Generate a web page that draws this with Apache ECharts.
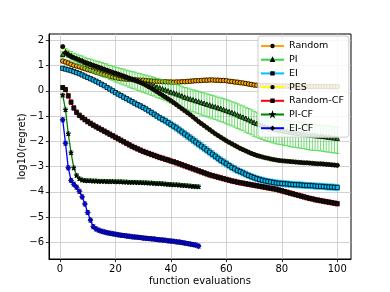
<!DOCTYPE html>
<html><head><meta charset="utf-8">
<script src="https://cdn.jsdelivr.net/npm/echarts@6/dist/echarts.min.js"></script>
<style>html,body{margin:0;padding:0;background:#fff}#c{width:390px;height:292px}</style>
</head><body><div id="c"></div>
<script>
const seriesNames = ['Random','PI','EI','PES','Random-CF','PI-CF','EI-CF'];
const xTicks = [0,20,40,60,80,100];
const yTicks = [-6,-5,-4,-3,-2,-1,0,1,2];

const random = [1.18,1.14,1.10,1.05,1.01,0.98,0.95,0.91,0.88,0.84,
0.81,0.78,0.74,0.71,0.67,0.64,0.61,0.58,0.55,0.52,
0.50,0.48,0.47,0.46,0.45,0.44,0.44,0.43,0.42,0.42,
0.41,0.40,0.39,0.38,0.38,0.37,0.36,0.36,0.35,0.35,
0.34,0.35,0.35,0.36,0.36,0.37,0.38,0.39,0.40,0.40,
0.41,0.42,0.42,0.43,0.43,0.42,0.42,0.41,0.41,0.40,
0.38,0.37,0.35,0.34,0.32,0.31,0.29,0.27,0.25,0.23,
0.22,0.22,0.21,0.21,0.20,0.20,0.20,0.20,0.19,0.19,
0.19,0.19,0.18,0.18,0.18,0.18,0.18,0.18,0.18,0.17,
0.17,0.17,0.17,0.17,0.17,0.16,0.16,0.16,0.16,0.16];

const pi = [1.45,1.55,1.47,1.40,1.33,1.28,1.23,1.19,1.13,1.08,
1.05,1.00,0.96,0.93,0.88,0.84,0.81,0.76,0.72,0.68,
0.64,0.61,0.58,0.54,0.50,0.47,0.44,0.40,0.37,0.33,
0.30,0.27,0.23,0.20,0.15,0.12,0.08,0.04,0.00,-0.05,
-0.08,-0.12,-0.16,-0.20,-0.25,-0.28,-0.32,-0.35,-0.39,-0.42,
-0.46,-0.49,-0.53,-0.56,-0.60,-0.63,-0.67,-0.70,-0.74,-0.78,
-0.82,-0.86,-0.90,-0.95,-1.00,-1.04,-1.09,-1.14,-1.19,-1.25,
-1.29,-1.33,-1.37,-1.41,-1.44,-1.47,-1.50,-1.53,-1.55,-1.57,
-1.59,-1.61,-1.63,-1.65,-1.66,-1.68,-1.70,-1.71,-1.73,-1.75,
-1.76,-1.77,-1.78,-1.79,-1.80,-1.82,-1.83,-1.85,-1.86,-1.88];

const ei = [0.89,0.86,0.83,0.80,0.76,0.72,0.68,0.63,0.58,0.53,
0.48,0.43,0.38,0.32,0.26,0.20,0.13,0.07,0.00,-0.07,
-0.13,-0.19,-0.25,-0.31,-0.37,-0.43,-0.49,-0.55,-0.60,-0.66,
-0.72,-0.79,-0.86,-0.93,-1.00,-1.07,-1.13,-1.19,-1.26,-1.33,
-1.40,-1.47,-1.55,-1.63,-1.71,-1.79,-1.87,-1.95,-2.03,-2.11,
-2.19,-2.27,-2.35,-2.43,-2.51,-2.59,-2.67,-2.75,-2.82,-2.89,
-2.96,-3.03,-3.09,-3.15,-3.20,-3.25,-3.30,-3.35,-3.40,-3.44,
-3.48,-3.51,-3.54,-3.57,-3.59,-3.61,-3.63,-3.65,-3.66,-3.67,
-3.68,-3.69,-3.70,-3.71,-3.72,-3.72,-3.73,-3.74,-3.75,-3.75,
-3.76,-3.77,-3.78,-3.78,-3.79,-3.80,-3.81,-3.81,-3.82,-3.83];

const pes = [1.75,1.50,1.42,1.36,1.31,1.27,1.22,1.18,1.13,1.09,
1.05,1.01,0.97,0.93,0.89,0.85,0.81,0.77,0.73,0.70,
0.66,0.62,0.58,0.54,0.50,0.46,0.42,0.38,0.33,0.28,
0.22,0.16,0.10,0.03,-0.04,-0.11,-0.18,-0.25,-0.32,-0.39,
-0.47,-0.55,-0.63,-0.71,-0.79,-0.87,-0.95,-1.04,-1.13,-1.22,
-1.30,-1.38,-1.46,-1.54,-1.62,-1.70,-1.77,-1.84,-1.91,-1.98,
-2.04,-2.10,-2.16,-2.22,-2.28,-2.33,-2.38,-2.43,-2.48,-2.52,
-2.56,-2.59,-2.62,-2.65,-2.67,-2.70,-2.72,-2.74,-2.76,-2.77,
-2.78,-2.79,-2.80,-2.81,-2.82,-2.83,-2.84,-2.85,-2.85,-2.86,
-2.87,-2.88,-2.89,-2.89,-2.90,-2.91,-2.92,-2.93,-2.94,-2.95];

const randomCF = [0.13,0.05,-0.20,-0.45,-0.68,-0.85,-0.97,-1.06,-1.14,-1.22,
-1.29,-1.36,-1.42,-1.48,-1.54,-1.60,-1.66,-1.72,-1.78,-1.84,
-1.90,-1.96,-2.02,-2.08,-2.14,-2.20,-2.25,-2.30,-2.35,-2.40,
-2.44,-2.48,-2.52,-2.56,-2.60,-2.64,-2.67,-2.71,-2.74,-2.78,
-2.81,-2.85,-2.89,-2.93,-2.97,-3.01,-3.05,-3.09,-3.13,-3.17,
-3.21,-3.25,-3.29,-3.33,-3.36,-3.39,-3.42,-3.45,-3.48,-3.51,
-3.54,-3.57,-3.59,-3.62,-3.64,-3.66,-3.68,-3.70,-3.72,-3.74,
-3.76,-3.78,-3.80,-3.82,-3.84,-3.86,-3.88,-3.90,-3.93,-3.96,
-3.99,-4.02,-4.05,-4.08,-4.11,-4.14,-4.17,-4.20,-4.23,-4.26,
-4.28,-4.31,-4.33,-4.35,-4.37,-4.39,-4.41,-4.43,-4.45,-4.47];

const piCF = [-0.17,-0.75,-1.70,-2.45,-3.05,-3.35,-3.48,-3.53,-3.55,-3.56,
-3.56,-3.57,-3.57,-3.58,-3.58,-3.58,-3.59,-3.59,-3.59,-3.60,
-3.60,-3.60,-3.61,-3.61,-3.62,-3.62,-3.62,-3.63,-3.63,-3.64,
-3.64,-3.65,-3.65,-3.66,-3.67,-3.67,-3.68,-3.69,-3.70,-3.71,
-3.72,-3.72,-3.73,-3.74,-3.75,-3.76,-3.77,-3.78,-3.79,-3.80];

const eiCF = [-1.15,-2.08,-3.05,-3.55,-3.70,-3.82,-3.98,-4.20,-4.48,-4.82,
-5.12,-5.38,-5.47,-5.52,-5.56,-5.59,-5.62,-5.64,-5.66,-5.68,
-5.70,-5.72,-5.73,-5.75,-5.76,-5.78,-5.79,-5.80,-5.81,-5.83,
-5.84,-5.85,-5.86,-5.87,-5.89,-5.90,-5.91,-5.92,-5.94,-5.95,
-5.96,-5.98,-5.99,-6.01,-6.03,-6.05,-6.07,-6.09,-6.11,-6.15];

const errRandom = [0.07,0.07,0.08,0.08,0.08,0.07,0.07,0.08,0.08,0.07,
0.07,0.07,0.08,0.08,0.07,0.07,0.07,0.08,0.08,0.07,
0.07,0.07,0.07,0.08,0.08,0.07,0.07,0.07,0.08,0.08,
0.07,0.07,0.07,0.07,0.08,0.08,0.07,0.07,0.07,0.07,
0.08,0.08,0.07,0.07,0.07,0.08,0.08,0.08,0.07,0.07,
0.07,0.08,0.08,0.07,0.07,0.07,0.08,0.08,0.07,0.07,
0.07,0.07,0.08,0.08,0.07,0.07,0.07,0.08,0.08,0.07,
0.07,0.07,0.07,0.08,0.08,0.07,0.07,0.07,0.07,0.08,
0.08,0.07,0.07,0.07,0.07,0.08,0.08,0.07,0.07,0.07,
0.07,0.08,0.08,0.07,0.07,0.07,0.07,0.08,0.08,0.07];

const errPIUp = [0.10,0.12,0.14,0.15,0.16,0.17,0.18,0.19,0.20,0.20,
0.21,0.22,0.22,0.23,0.24,0.24,0.25,0.25,0.26,0.26,
0.27,0.27,0.28,0.28,0.29,0.29,0.30,0.30,0.31,0.31,
0.32,0.32,0.33,0.33,0.34,0.34,0.35,0.35,0.36,0.36,
0.37,0.37,0.38,0.38,0.38,0.39,0.39,0.39,0.40,0.40,
0.40,0.41,0.41,0.41,0.42,0.42,0.42,0.42,0.43,0.43,
0.43,0.43,0.43,0.44,0.44,0.44,0.44,0.44,0.44,0.44,
0.44,0.44,0.44,0.44,0.44,0.44,0.44,0.44,0.44,0.44,
0.44,0.44,0.44,0.44,0.44,0.44,0.44,0.44,0.44,0.44,
0.44,0.44,0.44,0.44,0.44,0.44,0.44,0.44,0.44,0.44];

const errPIDown = [0.12,0.14,0.16,0.18,0.19,0.20,0.21,0.22,0.23,0.24,
0.25,0.26,0.27,0.28,0.29,0.30,0.30,0.31,0.32,0.33,
0.33,0.34,0.35,0.35,0.36,0.37,0.37,0.38,0.38,0.39,
0.40,0.40,0.41,0.41,0.42,0.42,0.43,0.43,0.44,0.44,
0.45,0.45,0.46,0.46,0.47,0.47,0.48,0.48,0.49,0.49,
0.50,0.50,0.50,0.51,0.51,0.51,0.52,0.52,0.52,0.53,
0.53,0.53,0.54,0.54,0.54,0.54,0.55,0.55,0.55,0.55,
0.55,0.56,0.56,0.56,0.56,0.56,0.57,0.57,0.57,0.57,
0.57,0.57,0.58,0.58,0.58,0.58,0.58,0.58,0.59,0.59,
0.59,0.59,0.59,0.59,0.60,0.60,0.60,0.60,0.60,0.60];

const errEI = [0.05,0.05,0.05,0.05,0.05,0.05,0.05,0.05,0.06,0.06,
0.06,0.06,0.06,0.06,0.06,0.06,0.07,0.07,0.07,0.07,
0.07,0.07,0.08,0.08,0.08,0.08,0.08,0.09,0.09,0.09,
0.09,0.09,0.10,0.10,0.10,0.10,0.11,0.11,0.11,0.12,
0.12,0.13,0.13,0.13,0.13,0.14,0.14,0.14,0.14,0.14,
0.14,0.14,0.14,0.14,0.14,0.13,0.13,0.13,0.13,0.13,
0.13,0.13,0.13,0.12,0.12,0.12,0.12,0.12,0.12,0.12,
0.12,0.12,0.12,0.12,0.12,0.12,0.12,0.12,0.12,0.12,
0.12,0.12,0.12,0.12,0.12,0.12,0.12,0.12,0.12,0.12,
0.12,0.12,0.12,0.12,0.12,0.12,0.12,0.12,0.12,0.12];

const errPES = [0.06,0.06,0.06,0.06,0.06,0.06,0.06,0.06,0.06,0.06,
0.06,0.06,0.06,0.06,0.06,0.06,0.06,0.06,0.06,0.06,
0.06,0.06,0.06,0.06,0.06,0.06,0.06,0.06,0.06,0.06,
0.06,0.06,0.06,0.06,0.06,0.06,0.06,0.06,0.06,0.06,
0.06,0.06,0.06,0.06,0.06,0.06,0.06,0.06,0.06,0.06,
0.06,0.06,0.06,0.06,0.06,0.06,0.06,0.06,0.06,0.06,
0.06,0.06,0.06,0.06,0.06,0.06,0.06,0.06,0.06,0.06,
0.06,0.06,0.06,0.06,0.06,0.06,0.06,0.06,0.06,0.06,
0.06,0.06,0.06,0.06,0.06,0.06,0.06,0.06,0.06,0.06,
0.06,0.06,0.06,0.06,0.06,0.06,0.06,0.06,0.06,0.06];

const errRandomCF = [0.08,0.08,0.09,0.09,0.09,0.09,0.09,0.09,0.09,0.09,
0.09,0.09,0.09,0.09,0.09,0.09,0.09,0.09,0.09,0.09,
0.09,0.09,0.09,0.09,0.09,0.09,0.09,0.09,0.09,0.09,
0.09,0.09,0.09,0.09,0.09,0.09,0.09,0.09,0.09,0.09,
0.09,0.09,0.09,0.09,0.09,0.09,0.09,0.09,0.09,0.09,
0.09,0.09,0.09,0.09,0.09,0.09,0.09,0.09,0.09,0.09,
0.09,0.09,0.09,0.09,0.09,0.09,0.09,0.09,0.09,0.09,
0.09,0.09,0.09,0.09,0.09,0.09,0.09,0.09,0.09,0.09,
0.09,0.09,0.09,0.09,0.09,0.09,0.09,0.09,0.09,0.09,
0.09,0.09,0.09,0.09,0.09,0.09,0.09,0.09,0.09,0.09];

const errPICF = [0.07,0.07,0.07,0.07,0.07,0.07,0.07,0.07,0.07,0.07,
0.07,0.07,0.07,0.07,0.07,0.07,0.07,0.07,0.07,0.07,
0.07,0.07,0.07,0.07,0.07,0.07,0.07,0.07,0.07,0.07,
0.07,0.07,0.07,0.07,0.07,0.07,0.07,0.07,0.07,0.07,
0.07,0.07,0.07,0.07,0.07,0.07,0.07,0.07,0.07,0.07];

const errEICF = [0.08,0.08,0.08,0.08,0.08,0.08,0.08,0.08,0.08,0.08,
0.08,0.08,0.08,0.08,0.08,0.08,0.08,0.08,0.08,0.08,
0.08,0.08,0.08,0.08,0.08,0.08,0.08,0.08,0.08,0.08,
0.08,0.08,0.08,0.08,0.08,0.08,0.08,0.08,0.08,0.08,
0.08,0.08,0.08,0.08,0.08,0.08,0.08,0.08,0.08,0.08];

const FONT = 'DejaVu Sans';
const FS = 10;
const STAR = 'path://M0,-10L2.35,-3.24L9.51,-3.09L3.8,1.24L5.88,8.09L0,4L-5.88,8.09L-3.8,1.24L-9.51,-3.09L-2.35,-3.24Z';

const defs = [
  {name:'Random', vals:random, up:errRandom, dn:errRandom, color:'#ffa500', face:'#ffa500', symbol:'circle', size:4.5},
  {name:'PI', vals:pi, up:errPIUp, dn:errPIDown, color:'#3cd33c', face:'#2a8a2a', symbol:'triangle', size:4.5},
  {name:'EI', vals:ei, up:errEI, dn:errEI, color:'#00bfff', face:'#00bfff', symbol:'rect', size:4.2},
  {name:'PES', vals:pes, up:errPES, dn:errPES, color:'#ffff00', face:'#111111', symbol:'circle', size:4.2},
  {name:'Random-CF', vals:randomCF, up:errRandomCF, dn:errRandomCF, color:'#ff0000', face:'#111111', symbol:'rect', size:4},
  {name:'PI-CF', vals:piCF, up:errPICF, dn:errPICF, color:'#008000', face:'#000000', symbol:STAR, size:4.5},
  {name:'EI-CF', vals:eiCF, up:errEICF, dn:errEICF, color:'#0000ff', face:'#0000ff', symbol:'diamond', size:5}
];

const series = [];
defs.forEach((d, k) => {
  const errData = d.vals.map((v, i) => [i + 1, v, v - d.dn[i], v + d.up[i]]);
  series.push({
    type: 'custom', name: d.name + '_err', z: 2 + 2 * k, silent: true,
    encode: {x: 0, y: [1, 2, 3]},
    data: errData,
    renderItem: function (params, api) {
      const x = api.value(0);
      const lo = api.coord([x, api.value(2)]);
      const hi = api.coord([x, api.value(3)]);
      const st = {stroke: d.color, lineWidth: 1, opacity: 0.75};
      const c = 2.2;
      return {type: 'group', children: [
        {type: 'line', shape: {x1: lo[0], y1: lo[1], x2: hi[0], y2: hi[1]}, style: st},
        {type: 'line', shape: {x1: lo[0] - c, y1: lo[1], x2: lo[0] + c, y2: lo[1]}, style: st},
        {type: 'line', shape: {x1: hi[0] - c, y1: hi[1], x2: hi[0] + c, y2: hi[1]}, style: st}
      ]};
    }
  });
  series.push({
    type: 'line', name: d.name, z: 3 + 2 * k,
    data: d.vals.map((v, i) => [i + 1, v]),
    symbol: d.symbol, symbolSize: d.size, showSymbol: true, showAllSymbol: true,
    lineStyle: {color: d.color, width: 1.3},
    itemStyle: {color: d.face, borderColor: '#000', borderWidth: 0.8},
    emphasis: {disabled: true}
  });
});

const fmt = v => (v < 0 ? '\u2212' + Math.abs(v) : String(v));

const chart = echarts.init(document.getElementById('c'), null, {renderer: 'canvas'});
chart.setOption({
  animation: false,
  backgroundColor: '#ffffff',
  grid: {left: 49, right: 39, top: 34, bottom: 33, show: true, borderColor: '#000', borderWidth: 1, backgroundColor: 'transparent'},
  xAxis: {
    type: 'value', min: -3.95, max: 104.95,
    name: 'function evaluations', nameLocation: 'middle', nameGap: 17, nameMoveOverlap: false,
    nameTextStyle: {fontFamily: FONT, fontSize: FS, color: '#000'},
    axisLine: {show: true, onZero: false, lineStyle: {color: '#000', width: 1}},
    axisTick: {show: true, length: 3.2, customValues: xTicks, lineStyle: {color: '#000', width: 0.8}},
    axisLabel: {customValues: xTicks, fontFamily: FONT, fontSize: FS, color: '#000', margin: 5, formatter: fmt},
    splitLine: {show: true, lineStyle: {color: '#c6c6c6', width: 0.8}}
  },
  yAxis: {
    type: 'value', min: -6.66, max: 2.25,
    name: 'log10(regret)', nameLocation: 'middle', nameGap: 22, nameRotate: 90, nameMoveOverlap: false,
    nameTextStyle: {fontFamily: FONT, fontSize: FS, color: '#000'},
    axisLine: {show: true, onZero: false, lineStyle: {color: '#000', width: 1}},
    axisTick: {show: true, length: 3.2, customValues: yTicks, lineStyle: {color: '#000', width: 0.8}},
    axisLabel: {customValues: yTicks, fontFamily: FONT, fontSize: FS, color: '#000', margin: 5, formatter: fmt},
    splitLine: {show: true, lineStyle: {color: '#c6c6c6', width: 0.8}}
  },
  legend: {
    data: seriesNames, orient: 'vertical', left: 258, top: 36,
    itemWidth: 23, itemHeight: 3, itemGap: 3.7,
    padding: [5, 5, 4, 2],
    backgroundColor: 'rgba(255,255,255,0.85)', borderColor: '#cccccc', borderWidth: 1, borderRadius: 3,
    textStyle: {fontFamily: FONT, fontSize: 9.5, color: '#000', lineHeight: 10},
    selectedMode: false, z: 50
  },
  series: series
});
</script>
</body></html>
